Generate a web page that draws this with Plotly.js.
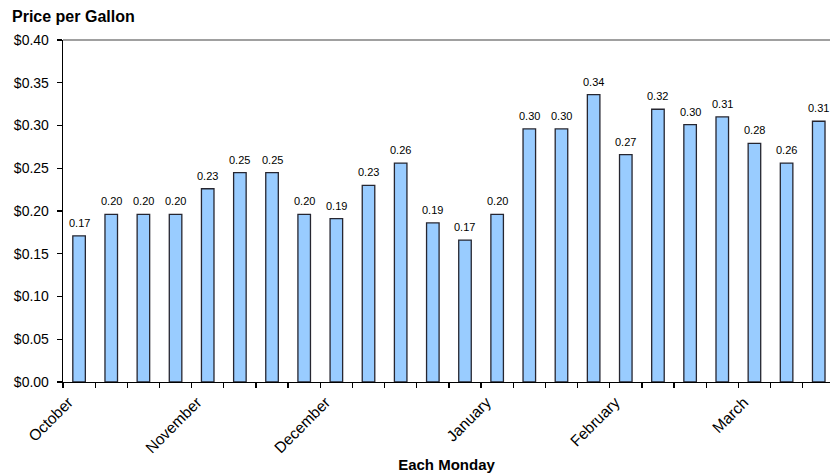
<!DOCTYPE html>
<html>
<head>
<meta charset="utf-8">
<script src="https://cdn.plot.ly/plotly-3.0.1.min.js"></script>
<style>
  html, body { margin: 0; padding: 0; background: #ffffff; }
  #chart { width: 830px; height: 473px; }
</style>
</head>
<body>
<div id="chart"></div>
<script>
// Weekly (each Monday) price per gallon, October -> March
var weeks = ['W1','W2','W3','W4','W5','W6','W7','W8','W9','W10','W11','W12',
             'W13','W14','W15','W16','W17','W18','W19','W20','W21','W22','W23','W24'];
var prices = [0.171, 0.196, 0.196, 0.196, 0.226, 0.245, 0.245, 0.196, 0.191, 0.230, 0.256, 0.186,
              0.166, 0.196, 0.296, 0.296, 0.336, 0.266, 0.319, 0.301, 0.310, 0.279, 0.256, 0.305];
var priceLabels = ['0.17','0.20','0.20','0.20','0.23','0.25','0.25','0.20','0.19','0.23','0.26','0.19',
                   '0.17','0.20','0.30','0.30','0.34','0.27','0.32','0.30','0.31','0.28','0.26','0.31'];
var monthNames = ['October','November','December','January','February','March'];
var monthStartWeek = [0, 4, 8, 13, 17, 21];   // index of first Monday of each month
var yTickVals = [0, 0.05, 0.10, 0.15, 0.20, 0.25, 0.30, 0.35, 0.40];

var idx = weeks.map(function (w, i) { return i; });
var LABEL_OFFSET = -0.33;  // rotated month labels sit slightly left of the bar centre
var monthTickPos = monthStartWeek.map(function (i) { return i + LABEL_OFFSET; });

var FONT = 'Liberation Sans, Arial, sans-serif';

var traces = [{
  type: 'bar',
  x: idx,
  y: prices,
  width: 0.39,
  marker: { color: '#99ccff', line: { color: '#262630', width: 1.3 } },
  hoverinfo: 'skip'
}];

var annotations = idx.map(function (i) {
  return {
    x: i, y: prices[i], xref: 'x', yref: 'y',
    text: priceLabels[i], showarrow: false,
    yanchor: 'bottom', yshift: 5,
    font: { family: FONT, size: 11, color: '#000000' }
  };
});

var layout = {
  width: 830, height: 473,
  paper_bgcolor: '#ffffff', plot_bgcolor: '#ffffff',
  margin: { l: 63, r: 0, t: 40, b: 91, pad: 0 },
  showlegend: false,
  font: { family: FONT, color: '#000000' },
  title: {
    text: '<b>Price per Gallon</b>',
    font: { family: FONT, size: 16, color: '#000000' },
    xref: 'container', x: 12 / 830, xanchor: 'left',
    yref: 'container', y: 1 - 16 / 473, yanchor: 'middle'
  },
  xaxis: {
    range: [-0.5, 23.35],
    tickmode: 'array', tickvals: monthTickPos, ticktext: monthNames,
    tickangle: -45, ticks: '', ticklabelstandoff: 4,
    tickfont: { family: FONT, size: 15.5, color: '#000000' },
    minor: { tickmode: 'linear', tick0: -0.5, dtick: 1, ticks: 'outside',
             ticklen: 5, tickwidth: 1.3, tickcolor: '#000000', showgrid: false },
    showline: true, linecolor: '#000000', linewidth: 1.3,
    showgrid: false, zeroline: false, fixedrange: true,
    title: { text: '<b>Each Monday</b>', standoff: 10,
             font: { family: FONT, size: 15, color: '#000000' } }
  },
  yaxis: {
    range: [0, 0.40],
    tickmode: 'array', tickvals: yTickVals, tickformat: '$.2f',
    ticks: 'outside', ticklen: 5, tickwidth: 1.3, tickcolor: '#000000',
    ticklabelstandoff: 5,
    tickfont: { family: FONT, size: 14, color: '#000000' },
    showline: true, linecolor: '#000000', linewidth: 1.3,
    showgrid: false, zeroline: false, fixedrange: true
  },
  shapes: [{
    type: 'line', xref: 'paper', yref: 'paper',
    x0: 0, x1: 1, y0: 1, y1: 1,
    line: { color: '#808080', width: 1.3 }
  }],
  annotations: annotations,
  bargap: 0
};

Plotly.newPlot('chart', traces, layout, { displayModeBar: false, staticPlot: true });
</script>
</body>
</html>
